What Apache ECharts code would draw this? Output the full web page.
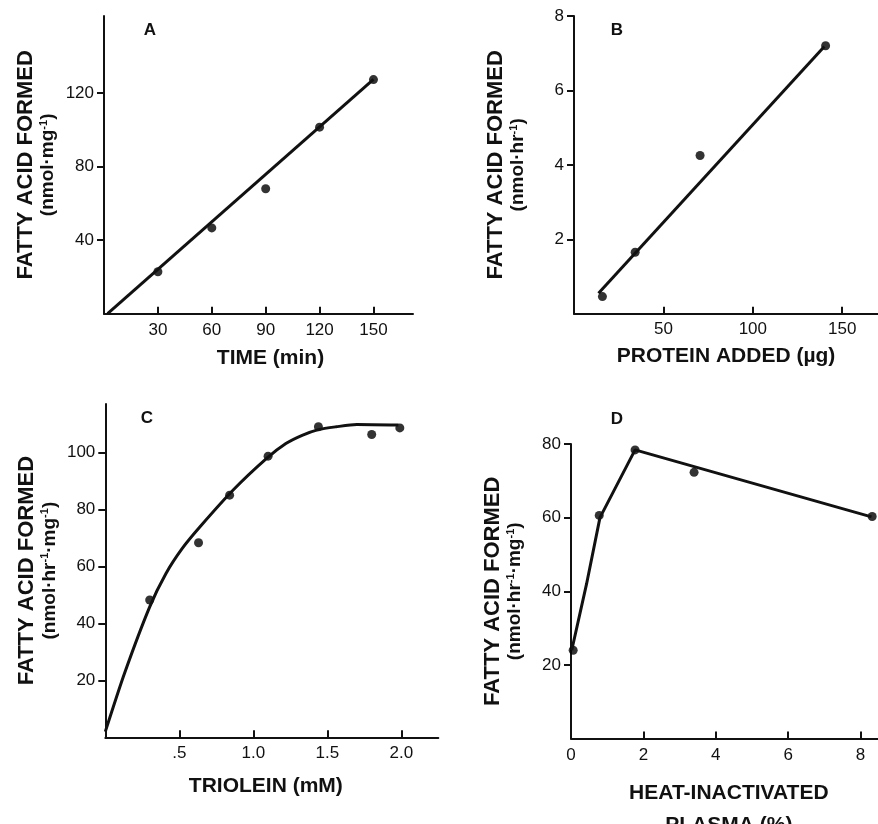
<!DOCTYPE html>
<html>
<head>
<meta charset="utf-8">
<script src="https://cdn.jsdelivr.net/npm/echarts@6/dist/echarts.min.js"></script>
<style>
html,body{margin:0;padding:0;background:#fff;}
#chart{width:878px;height:824px;}
</style>
</head>
<body>
<div id="chart"></div>
<script>
// ---- Panel A: time course ----
const timeMin = [30, 60, 90, 120, 150];
const faA = [22.8, 46.7, 68, 101.5, 127.4];
const fitA = [[2, 0], [150, 127.5]];
const xTicksA = [30, 60, 90, 120, 150];
const yTicksA = [40, 80, 120];

// ---- Panel B: protein added ----
const proteinUg = [15.9, 34.2, 70.5, 140.7];
const faB = [0.46, 1.65, 4.25, 7.2];
const fitB = [[13.7, 0.55], [140, 7.18]];
const xTicksB = [50, 100, 150];
const yTicksB = [2, 4, 6, 8];

// ---- Panel C: triolein ----
const trioleinMM = [0.30, 0.63, 0.84, 1.10, 1.44, 1.80, 1.99];
const faC = [48.2, 68.3, 85, 98.7, 109, 106.3, 108.6];
const curveC = [[0, 2], [0.13, 22.5], [0.30, 45.8], [0.41, 57.5], [0.52, 66.3], [0.64, 73.9],
  [0.864, 86.8], [1.09, 97.9], [1.22, 103.1], [1.33, 106], [1.44, 108], [1.56, 109],
  [1.70, 109.8], [1.98, 109.6]];
const xTicksC = [0.5, 1.0, 1.5, 2.0];
const yTicksC = [20, 40, 60, 80, 100];

// ---- Panel D: heat-inactivated plasma ----
const plasmaPct = [0.06, 0.78, 1.77, 3.4, 8.32];
const faD = [24, 60.6, 78.4, 72.3, 60.3];
const lineD = [[0.02, 24], [0.43, 42], [0.8, 60], [1.77, 78.4], [8.3, 60.2]];
const xTicksD = [0, 2, 4, 6, 8];
const yTicksD = [20, 40, 60, 80];

// ---- Texts ----
const panelLetters = ['A', 'B', 'C', 'D'];
const yTitle = 'FATTY ACID FORMED';
const xTitles = ['TIME (min)', 'PROTEIN ADDED (µg)', 'TRIOLEIN (mM)', 'HEAT-INACTIVATED\nPLASMA (%)'];

const FONT = "'Liberation Sans', Arial, Helvetica, sans-serif";
const INK = '#111';

const rich = {
  t: {fontSize: 22, fontWeight: 'bold', fontFamily: FONT, color: INK, lineHeight: 24},
  s: {fontSize: 19, fontWeight: 'bold', fontFamily: FONT, color: INK, lineHeight: 20},
  sup: {fontSize: 11, fontWeight: 'bold', fontFamily: FONT, color: INK, lineHeight: 11, verticalAlign: 'top'}
};
const yNames = [
  '{t|' + yTitle + '}\n{s|(nmol·mg}{sup|-1}{s|)}',
  '{t|' + yTitle + '}\n{s|(nmol·hr}{sup|-1}{s|)}',
  '{t|' + yTitle + '}\n{s|(nmol·hr}{sup|-1}{s|·mg}{sup|-1}{s|)}',
  '{t|' + yTitle + '}\n{s|(nmol·hr}{sup|-1}{s|·mg}{sup|-1}{s|)}'
];

const grids = [
  {left: 104, top: 16, width: 309, height: 297.7, outerBoundsMode: 'none', containLabel: false},
  {left: 574, top: 16, width: 304, height: 297.7, outerBoundsMode: 'none', containLabel: false},
  {left: 105.3, top: 404, width: 333, height: 333.3, outerBoundsMode: 'none', containLabel: false},
  {left: 571, top: 444, width: 307.7, height: 294.6, outerBoundsMode: 'none', containLabel: false}
];
const xRanges = [[0, 172], [0, 170], [0, 2.25], [0, 8.5]];
const yRanges = [[0, 162], [0, 8], [0, 117], [0, 80]];
const xTickSets = [xTicksA, xTicksB, xTicksC, xTicksD];
const yTickSets = [yTicksA, yTicksB, yTicksC, yTicksD];
const xNameGaps = [33, 31, 37, 39];
const xLabelMargins = [8, 7, 8, 8];
const xNamePad = [[0, 0, 0, 24], [0, 0, 0, 0], [0, 12, 0, 0], [0, 0, 0, 8]];

function xFmt(i) {
  return function (v) {
    if (i === 2) return v === 0.5 ? '.5' : v.toFixed(1);
    return String(v);
  };
}

const xAxes = grids.map((g, i) => ({
  type: 'value', gridIndex: i,
  min: xRanges[i][0], max: xRanges[i][1],
  name: xTitles[i], nameLocation: 'middle', nameGap: xNameGaps[i],
  nameTextStyle: {fontSize: 21, fontWeight: 'bold', fontFamily: FONT, color: INK,
    lineHeight: i === 3 ? 32 : 24, padding: xNamePad[i]},
  axisLine: {show: true, onZero: false, lineStyle: {color: INK, width: 2}},
  axisTick: {show: true, inside: true, length: 7, customValues: xTickSets[i], lineStyle: {color: INK, width: 2}},
  axisLabel: {customValues: xTickSets[i], formatter: xFmt(i), fontSize: 17, fontFamily: FONT, color: INK,
    margin: xLabelMargins[i], showMinLabel: true, showMaxLabel: true},
  splitLine: {show: false}
}));

const yAxes = grids.map((g, i) => ({
  type: 'value', gridIndex: i,
  min: yRanges[i][0], max: yRanges[i][1],
  name: yNames[i], nameLocation: 'middle', nameGap: 46, nameRotate: 90,
  nameTextStyle: {rich: rich, align: 'center'},
  axisLine: {show: true, onZero: false, lineStyle: {color: INK, width: 2}},
  axisTick: {show: true, inside: false, length: 7, customValues: yTickSets[i], lineStyle: {color: INK, width: 2}},
  axisLabel: {customValues: yTickSets[i], fontSize: 17, fontFamily: FONT, color: INK, margin: 10},
  splitLine: {show: false}
}));

function pts(xs, ys) { return xs.map((x, k) => [x, ys[k]]); }

const lineStyle = {color: INK, width: 3};
const series = [
  {type: 'line', xAxisIndex: 0, yAxisIndex: 0, data: fitA, symbol: 'none', lineStyle: lineStyle, clip: false},
  {type: 'scatter', xAxisIndex: 0, yAxisIndex: 0, data: pts(timeMin, faA), symbolSize: 9, itemStyle: {color: '#000'}},
  {type: 'line', xAxisIndex: 1, yAxisIndex: 1, data: fitB, symbol: 'none', lineStyle: lineStyle, clip: false},
  {type: 'scatter', xAxisIndex: 1, yAxisIndex: 1, data: pts(proteinUg, faB), symbolSize: 9, itemStyle: {color: '#000'}},
  {type: 'line', xAxisIndex: 2, yAxisIndex: 2, data: curveC, symbol: 'none', smooth: 0.25, lineStyle: lineStyle, clip: false},
  {type: 'scatter', xAxisIndex: 2, yAxisIndex: 2, data: pts(trioleinMM, faC), symbolSize: 9, itemStyle: {color: '#000'}},
  {type: 'line', xAxisIndex: 3, yAxisIndex: 3, data: lineD, symbol: 'none', lineStyle: lineStyle, clip: false},
  {type: 'scatter', xAxisIndex: 3, yAxisIndex: 3, data: pts(plasmaPct, faD), symbolSize: 9, itemStyle: {color: '#000'}}
];

const letterPos = [[150, 30], [617, 30], [147, 418], [617, 419]];
const graphic = panelLetters.map((L, i) => ({
  type: 'text', x: letterPos[i][0], y: letterPos[i][1],
  style: {text: L, fill: INK, font: 'bold 17px ' + FONT, textAlign: 'center', textVerticalAlign: 'middle'}
}));

const chart = echarts.init(document.getElementById('chart'), null, {renderer: 'canvas'});
chart.setOption({
  animation: false,
  backgroundColor: '#fff',
  grid: grids,
  xAxis: xAxes,
  yAxis: yAxes,
  series: series,
  graphic: graphic
});
</script>
</body>
</html>
